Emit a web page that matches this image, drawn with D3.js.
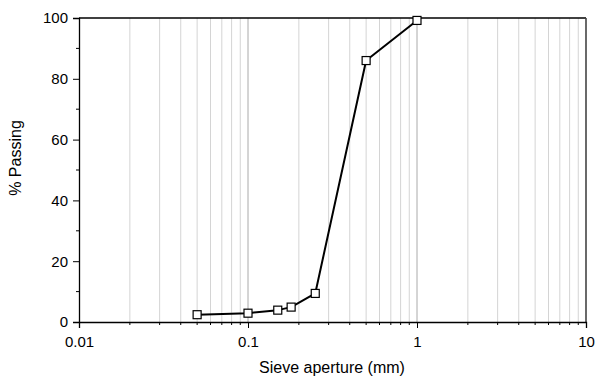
<!DOCTYPE html>
<html>
<head>
<meta charset="utf-8">
<script src="https://cdn.jsdelivr.net/npm/d3@7"></script>
<style>
  body { margin: 0; background: #fff; }
  text { font-family: "Liberation Sans", Arial, sans-serif; }
</style>
</head>
<body>
<div id="chart"></div>
<script>
var width = 596;
var height = 377;
var margin = ({top: 18, right: 10, bottom: 55, left: 79});

// sieve data
var aperture = [0.05, 0.1, 0.15, 0.18, 0.25, 0.5, 1];
var passing = [2.4, 2.9, 3.9, 4.9, 9.4, 86, 99.2];
var xTicks = [0.01, 0.1, 1, 10];
var yTicks = [0, 20, 40, 60, 80, 100];

var x = d3.scaleLog()
    .domain([0.01, 10])
    .range([margin.left, width - margin.right]);

var y = d3.scaleLinear()
    .domain([0, 100])
    .range([height - margin.bottom, margin.top]);

// minor ticks 2..9 per decade
var minor = [];
[0.01, 0.1, 1].forEach(d => { for (var k = 2; k < 10; k++) minor.push(d * k); });

var svg = d3.select("#chart").append("svg")
    .attr("width", width)
    .attr("height", height);

// grid
svg.append("g")
  .selectAll("line")
  .data(minor)
  .join("line")
    .attr("x1", d => x(d)).attr("x2", d => x(d))
    .attr("y1", y(0)).attr("y2", y(100))
    .attr("stroke", "#d4d4d4")
    .attr("stroke-width", 1);

svg.append("g")
  .selectAll("line")
  .data([0.1, 1])
  .join("line")
    .attr("x1", d => x(d)).attr("x2", d => x(d))
    .attr("y1", y(0)).attr("y2", y(100))
    .attr("stroke", "#aaa")
    .attr("stroke-width", 1);

// frame top + right
svg.append("line")
    .attr("x1", x(0.01)).attr("x2", x(10))
    .attr("y1", y(100)).attr("y2", y(100))
    .attr("stroke", "#000").attr("stroke-width", 1.3);
svg.append("line")
    .attr("x1", x(10)).attr("x2", x(10))
    .attr("y1", y(0)).attr("y2", y(100))
    .attr("stroke", "#444").attr("stroke-width", 1.6);

// x axis
var xAxis = svg.append("g")
    .attr("transform", `translate(0,${y(0)})`)
    .call(d3.axisBottom(x).tickValues(xTicks).tickFormat(d3.format("~g")).tickSize(6).tickPadding(8));
xAxis.selectAll("text").attr("font-size", 15).attr("fill", "#000");
xAxis.select(".domain").attr("stroke-width", 1.3);

svg.append("g")
  .selectAll("line")
  .data(minor)
  .join("line")
    .attr("x1", d => x(d)).attr("x2", d => x(d))
    .attr("y1", y(0)).attr("y2", y(0) + 3)
    .attr("stroke", "#000");

// y axis
var yAxis = svg.append("g")
    .attr("transform", `translate(${margin.left},0)`)
    .call(d3.axisLeft(y).tickValues(yTicks).tickSize(6).tickPadding(5));
yAxis.selectAll("text").attr("font-size", 15).attr("fill", "#000");
yAxis.select(".domain").attr("stroke-width", 1.3);

svg.append("g")
  .selectAll("line")
  .data([10, 30, 50, 70, 90])
  .join("line")
    .attr("x1", margin.left - 3).attr("x2", margin.left)
    .attr("y1", d => y(d)).attr("y2", d => y(d))
    .attr("stroke", "#000");

// labels
svg.append("text")
    .attr("x", 332)
    .attr("y", 373)
    .attr("text-anchor", "middle")
    .attr("font-size", 16)
    .text("Sieve aperture (mm)");

svg.append("text")
    .attr("transform", "translate(21,158) rotate(-90)")
    .attr("text-anchor", "middle")
    .attr("font-size", 16)
    .text("% Passing");

// line + markers
var pts = aperture.map((d, i) => [d, passing[i]]);

svg.append("path")
    .datum(pts)
    .attr("fill", "none")
    .attr("stroke", "#000")
    .attr("stroke-width", 2)
    .attr("stroke-linejoin", "round")
    .attr("d", d3.line().x(d => x(d[0])).y(d => y(d[1])));

svg.append("g")
  .selectAll("rect")
  .data(pts)
  .join("rect")
    .attr("x", d => x(d[0]) - 4)
    .attr("y", d => y(d[1]) - 4)
    .attr("width", 8)
    .attr("height", 8)
    .attr("fill", "#fff")
    .attr("stroke", "#000")
    .attr("stroke-width", 1.2);
</script>
</body>
</html>
